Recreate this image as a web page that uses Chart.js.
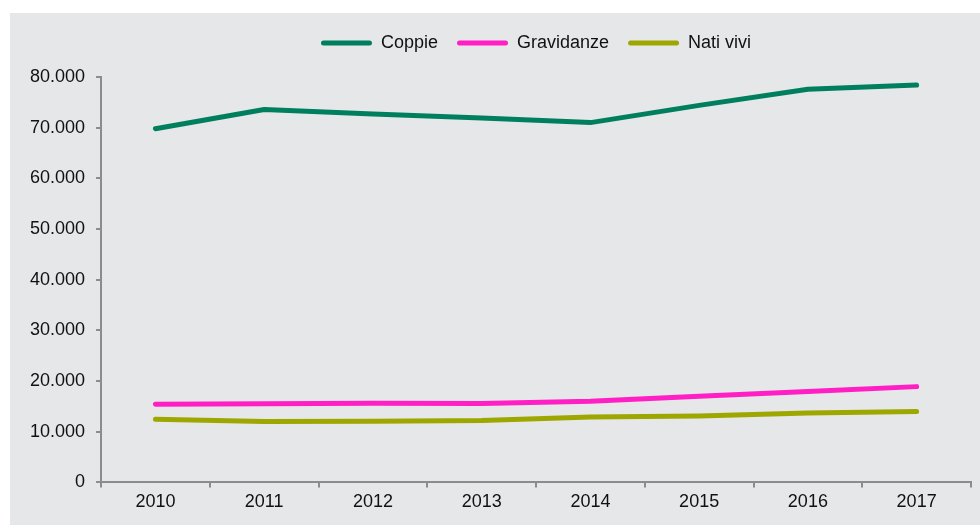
<!DOCTYPE html>
<html>
<head>
<meta charset="utf-8">
<script src="https://cdn.jsdelivr.net/npm/chart.js@4/dist/chart.umd.min.js"></script>
<style>
  html, body { margin: 0; padding: 0; background: #fff; }
  #wrap {
    position: absolute; left: 10px; top: 13px;
    width: 970px; height: 512px; background: #e6e7e8;
  }
</style>
</head>
<body>
<div id="wrap"><canvas id="chart"></canvas></div>
<script>
const years = ["2010", "2011", "2012", "2013", "2014", "2015", "2016", "2017"];
const coppie = [69800, 73600, 72700, 71900, 71000, 74400, 77600, 78400];
const gravidanze = [15400, 15500, 15600, 15550, 16000, 17000, 17950, 18900];
const natiVivi = [12450, 12000, 12050, 12200, 12900, 13100, 13700, 13980];

const axisGray = "#8c8c8c";

// extra room under the legend
const legendMargin = {
  id: "legendMargin",
  beforeInit(chart) {
    const fit = chart.legend.fit;
    chart.legend.fit = function () {
      fit.bind(chart.legend)();
      this.height += 15;
    };
  },
};

function series(label, data, color) {
  return {
    label,
    data,
    borderColor: color,
    backgroundColor: color,
    borderWidth: 5,
    borderCapStyle: "round",
    borderJoinStyle: "round",
    pointRadius: 0,
    tension: 0,
  };
}

Chart.defaults.font.family = "'Liberation Sans', Arial, sans-serif";
Chart.defaults.font.size = 18;
Chart.defaults.color = "#111";

new Chart(document.getElementById("chart"), {
  type: "line",
  data: {
    labels: years,
    datasets: [
      series("Coppie", coppie, "#007f5f"),
      series("Gravidanze", gravidanze, "#ff1fc4"),
      series("Nati vivi", natiVivi, "#9ea700"),
    ],
  },
  options: {
    responsive: true,
    maintainAspectRatio: false,
    animation: false,
    layout: { padding: { top: 2, left: 9, right: 9, bottom: 8 } },
    scales: {
      x: {
        offset: true,
        border: { color: axisGray, width: 2 },
        grid: {
          offset: true,
          drawOnChartArea: false,
          color: axisGray,
          tickLength: 5,
          lineWidth: 2,
        },
        ticks: { padding: 4 },
      },
      y: {
        min: 0,
        max: 80000,
        border: { color: axisGray, width: 2 },
        grid: {
          drawOnChartArea: false,
          color: axisGray,
          tickLength: 5,
          lineWidth: 2,
        },
        ticks: {
          stepSize: 10000,
          padding: 11,
          // dots as thousand separator
          callback(value) {
            return String(value).replace(/\B(?=(\d{3})+(?!\d))/g, ".");
          },
        },
      },
    },
    plugins: {
      legend: {
        fullSize: false,
        labels: {
          boxWidth: 51,
          boxHeight: 5,
          padding: 19,
          useBorderRadius: true,
          borderRadius: 2.5,
          generateLabels(chart) {
            const items = Chart.defaults.plugins.legend.labels.generateLabels(chart);
            items.forEach((it) => { it.lineWidth = 0; });
            return items;
          },
        },
      },
      tooltip: { enabled: false },
    },
  },
  plugins: [legendMargin],
});
</script>
</body>
</html>
